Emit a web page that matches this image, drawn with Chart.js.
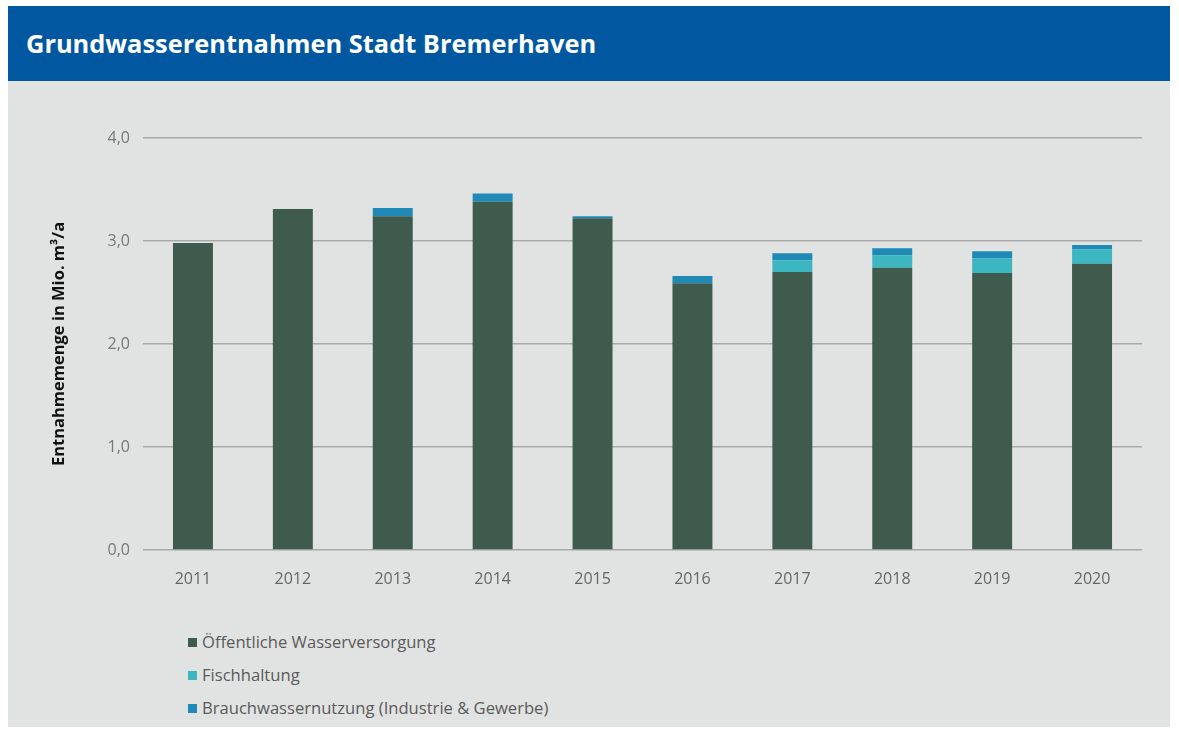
<!DOCTYPE html>
<html>
<head>
<meta charset="utf-8">
<script src="https://cdn.jsdelivr.net/npm/chart.js@4.4.0/dist/chart.umd.min.js"></script>
<style>
  body { margin: 0; background: #fff; font-family: "Open Sans", sans-serif; }
  #header {
    position: absolute; left: 8px; top: 6px; width: 1162px; height: 75px;
    background: #0158a0; color: #fff; font-weight: bold; font-size: 25.4px;
    line-height: 75px; padding-left: 18px; box-sizing: border-box;
  }
  #panel {
    position: absolute; left: 8px; top: 81px; width: 1162px; height: 646px;
    background: #e1e3e2;
  }
  #chartBox { position: absolute; left: 0; top: 0; width: 1162px; height: 520px; }
  #legend { position: absolute; left: 180px; top: 550px; color: #5a5a5a; font-size: 16.6px; }
  #legend div { height: 33px; line-height: 22px; }
  #legend span.box { display: inline-block; width: 9px; height: 9px; margin-right: 5px; vertical-align: 1px; }
</style>
</head>
<body>
<div id="header">Grundwasserentnahmen Stadt Bremerhaven</div>
<div id="panel">
  <div id="chartBox"><canvas id="chart"></canvas></div>
  <div id="legend"></div>
</div>
<script>
const years = ['2011', '2012', '2013', '2014', '2015', '2016', '2017', '2018', '2019', '2020'];
const seriesNames = ['Öffentliche Wasserversorgung', 'Fischhaltung', 'Brauchwassernutzung (Industrie & Gewerbe)'];
const oeffentlich = [2.98, 3.31, 3.24, 3.38, 3.22, 2.59, 2.70, 2.74, 2.69, 2.78];
const fischhaltung = [0, 0, 0, 0, 0, 0, 0.11, 0.12, 0.14, 0.14];
const brauchwasser = [0, 0, 0.08, 0.08, 0.02, 0.07, 0.07, 0.07, 0.07, 0.04];
const yTicks = [0, 1, 2, 3, 4];
const colors = ['#3f5b4e', '#3cb7c1', '#1e8ab5'];

// simple html legend, one entry per line
const legend = document.getElementById('legend');
seriesNames.forEach((name, i) => {
  const row = document.createElement('div');
  const box = document.createElement('span');
  box.className = 'box';
  box.style.background = colors[i];
  row.appendChild(box);
  row.appendChild(document.createTextNode(name));
  legend.appendChild(row);
});

const ctx = document.getElementById('chart');
new Chart(ctx, {
  type: 'bar',
  data: {
    labels: years,
    datasets: [oeffentlich, fischhaltung, brauchwasser].map((d, i) => ({
      label: seriesNames[i],
      data: d,
      backgroundColor: colors[i],
      barPercentage: 0.4,
      categoryPercentage: 1
    }))
  },
  options: {
    responsive: true,
    maintainAspectRatio: false,
    animation: false,
    layout: { padding: { top: 57, right: 28, bottom: 0, left: 0 } },
    plugins: { legend: { display: false }, tooltip: { enabled: false } },
    scales: {
      x: {
        stacked: true,
        grid: { display: false },
        border: { display: false },
        ticks: { color: '#666', font: { family: 'Open Sans', size: 16 }, padding: 12 },
        afterFit: (s) => { s.height = 51; }
      },
      y: {
        stacked: true,
        min: 0,
        max: 4,
        afterBuildTicks: (s) => { s.ticks = yTicks.map(v => ({ value: v })); },
        grid: { color: '#a9aaa9', lineWidth: 1.5, drawTicks: false },
        border: { display: false },
        ticks: {
          color: '#777',
          font: { family: 'Open Sans', size: 16 },
          padding: 13,
          callback: (v) => v.toFixed(1).replace('.', ',')
        },
        title: {
          display: true,
          text: 'Entnahmemenge in Mio. m³/a',
          color: '#111',
          font: { family: 'Open Sans', size: 16.5, weight: 'bold' },
          padding: { top: 41, bottom: 0 }
        },
        afterFit: (s) => { s.width = 135; }
      }
    }
  }
});
</script>
</body>
</html>
